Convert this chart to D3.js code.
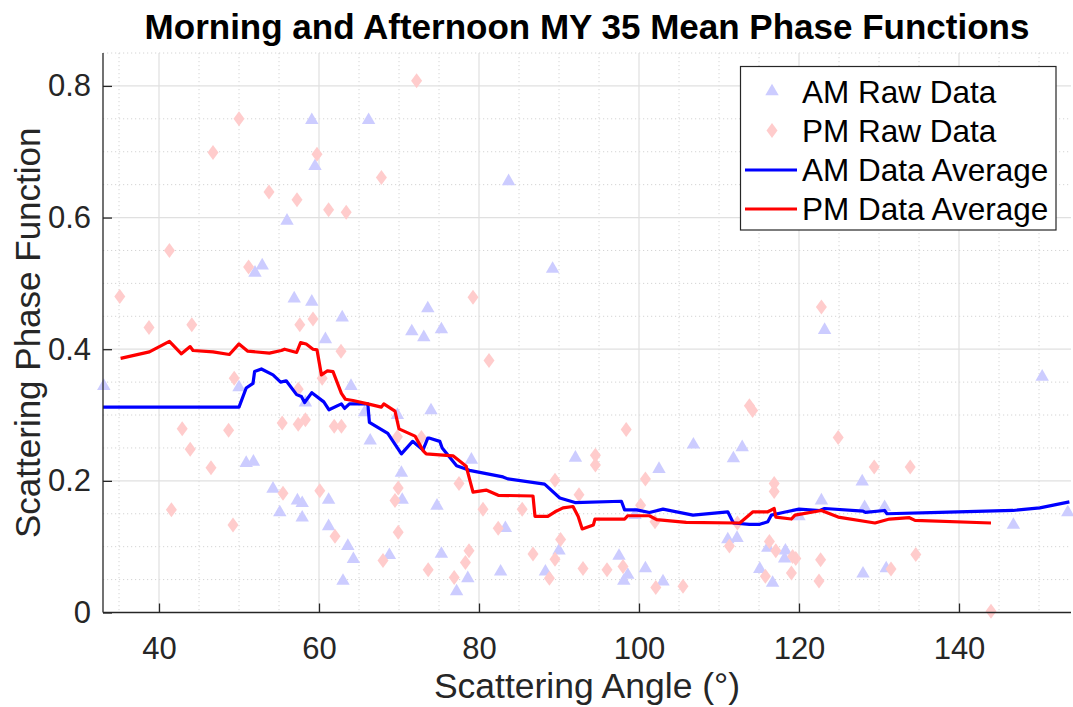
<!DOCTYPE html>
<html>
<head>
<meta charset="utf-8">
<script src="https://cdn.jsdelivr.net/npm/d3@7"></script>
<style>
  html, body { margin: 0; padding: 0; background: #ffffff; }
  svg { display: block; font-family: "Liberation Sans", Arial, Helvetica, sans-serif; }
</style>
</head>
<body>
<svg id="chart" width="1073" height="707"></svg>
<script>
// Raw AM observations: [scattering angle (deg), phase function]
const amRaw = [
  [33.1,0.344],[50.0,0.342],[50.9,0.227],[51.8,0.229],[52.0,0.516],[52.9,0.527],
  [54.25,0.188],[55.1,0.152],[56.0,0.595],[56.9,0.477],[57.3,0.170],[57.9,0.166],
  [57.9,0.144],[58.3,0.319],[59.1,0.748],[59.5,0.678],[59.1,0.472],[60.8,0.415],
  [61.2,0.171],[61.2,0.131],[62.9,0.448],[63.0,0.048],[63.6,0.101],[64.0,0.344],
  [64.3,0.081],[65.7,0.304],[66.2,0.748],[66.4,0.261],[68.8,0.087],[69.8,0.300],
  [70.3,0.212],[70.4,0.171],[71.6,0.427],[73.1,0.418],[73.6,0.462],[74.0,0.307],
  [74.75,0.162],[75.3,0.430],[75.3,0.089],[77.2,0.032],[78.6,0.052],[79.05,0.232],
  [82.7,0.062],[83.3,0.128],[83.7,0.655],[88.3,0.062],[89.2,0.522],[90.0,0.094],
  [92.05,0.235],[97.5,0.086],[98.1,0.048],[98.6,0.057],[99.5,0.148],[100.8,0.067],
  [102.5,0.218],[103.0,0.047],[106.8,0.255],[111.1,0.111],[111.8,0.234],[112.25,0.113],
  [112.9,0.251],[115.1,0.066],[116.1,0.098],[116.7,0.045],[118.3,0.094],[118.2,0.082],
  [120.0,0.146],[122.8,0.170],[123.2,0.429],[127.9,0.199],[128.0,0.059],[128.2,0.160],
  [130.7,0.160],[130.9,0.067],[146.8,0.133],[150.4,0.358],[153.6,0.152]
];

// Raw PM observations
const pmRaw = [
  [35.1,0.480],[38.75,0.433],[41.3,0.550],[41.55,0.156],[42.9,0.279],[43.9,0.248],
  [44.1,0.437],[46.5,0.220],[46.75,0.699],[48.7,0.277],[49.25,0.133],[49.4,0.356],
  [50.0,0.750],[51.2,0.525],[53.75,0.639],[55.4,0.288],[55.5,0.181],[57.25,0.627],
  [57.4,0.286],[57.4,0.339],[57.6,0.437],[58.3,0.293],[59.25,0.446],[59.75,0.696],
  [60.1,0.185],[60.4,0.356],[61.2,0.612],[61.9,0.283],[62.0,0.116],[62.75,0.397],
  [62.8,0.283],[63.4,0.608],[67.8,0.661],[68.0,0.079],[69.5,0.170],[69.8,0.267],
  [69.9,0.189],[69.9,0.122],[72.2,0.808],[72.8,0.266],[73.65,0.065],[76.9,0.053],
  [77.5,0.196],[78.3,0.076],[78.75,0.094],[79.25,0.479],[80.5,0.157],[81.25,0.383],
  [82.4,0.128],[85.4,0.157],[86.75,0.089],[88.8,0.052],[89.5,0.081],[89.5,0.201],
  [90.2,0.111],[92.5,0.179],[93.0,0.067],[94.55,0.239],[94.55,0.224],[96.0,0.065],
  [98.0,0.070],[98.4,0.278],[100.2,0.163],[100.8,0.203],[102.0,0.138],[102.1,0.038],
  [105.5,0.040],[111.3,0.101],[112.3,0.136],[113.8,0.314],[114.2,0.307],[115.8,0.055],
  [116.3,0.108],[116.9,0.196],[116.9,0.184],[117.1,0.094],[119.05,0.060],[119.2,0.085],
  [119.6,0.082],[122.5,0.048],[122.7,0.080],[122.8,0.464],[124.9,0.266],[129.4,0.221],
  [131.5,0.066],[133.9,0.221],[134.6,0.088],[144.0,0.002]
];

// Running average of the AM data
const amAvg = [
  [33.0,0.312],[50.0,0.312],[50.9,0.341],[51.75,0.348],[51.95,0.366],[52.8,0.370],
  [54.25,0.361],[55.2,0.350],[55.9,0.352],[57.2,0.331],[57.8,0.328],[58.2,0.319],
  [59.1,0.334],[60.6,0.320],[61.25,0.308],[62.8,0.317],[63.2,0.310],[63.8,0.317],
  [65.1,0.317],[66.1,0.317],[66.3,0.289],[68.6,0.272],[70.3,0.241],[71.7,0.260],
  [73.0,0.247],[73.6,0.265],[73.75,0.265],[75.1,0.260],[75.4,0.250],[77.2,0.223],
  [78.8,0.216],[83.0,0.206],[83.6,0.203],[88.2,0.195],[90.1,0.174],[92.0,0.167],
  [97.8,0.169],[98.2,0.156],[99.7,0.156],[101.3,0.152],[103.0,0.157],[106.75,0.148],
  [111.1,0.153],[111.8,0.136],[113.8,0.134],[115.1,0.134],[116.1,0.138],[116.55,0.148],
  [118.0,0.152],[120.0,0.157],[122.6,0.155],[123.2,0.158],[128.0,0.154],[128.3,0.152],
  [130.7,0.155],[131.0,0.150],[137.6,0.152],[146.75,0.155],[150.1,0.159],[153.8,0.168]
];

// Running average of the PM data
const pmAvg = [
  [35.2,0.386],[38.8,0.396],[41.3,0.412],[42.8,0.393],[43.9,0.404],[44.25,0.398],
  [46.75,0.396],[48.8,0.392],[50.0,0.408],[51.1,0.397],[53.8,0.394],[55.3,0.398],
  [55.7,0.400],[57.2,0.395],[57.7,0.410],[58.4,0.408],[59.25,0.400],[59.75,0.399],
  [60.3,0.361],[61.05,0.367],[61.75,0.366],[62.8,0.333],[63.3,0.324],[64.25,0.322],
  [66.1,0.317],[67.8,0.312],[68.1,0.317],[69.5,0.306],[70.0,0.279],[72.0,0.268],
  [73.0,0.246],[73.4,0.241],[76.75,0.238],[78.4,0.222],[79.25,0.183],[80.9,0.186],
  [82.4,0.178],[86.75,0.177],[87.0,0.146],[88.6,0.146],[89.5,0.153],[90.5,0.159],
  [91.75,0.161],[92.4,0.146],[92.9,0.127],[94.3,0.133],[94.5,0.142],[98.2,0.142],
  [98.6,0.147],[101.3,0.147],[102.2,0.141],[105.9,0.137],[112.2,0.136],[112.6,0.136],
  [114.25,0.153],[116.1,0.153],[116.9,0.158],[117.1,0.145],[119.05,0.142],[119.5,0.148],
  [122.8,0.155],[124.9,0.145],[129.5,0.136],[131.3,0.142],[133.8,0.144],[134.5,0.140],
  [144.0,0.136]
];

const xTicks = [40, 60, 80, 100, 120, 140];
const yTicks = [0, 0.2, 0.4, 0.6, 0.8];
const legendLabels = ["AM Raw Data", "PM Raw Data", "AM Data Average", "PM Data Average"];

const svg = d3.select("#chart");
const plot = { left: 103, right: 1071, top: 53, bottom: 612.5 };

const x = d3.scaleLinear().domain([33, 154]).range([plot.left, plot.right]);
const y = d3.scaleLinear().domain([0, 0.85]).range([plot.bottom, plot.top]);

const axisColor = "#262626";
const amMarker = "#ccccff";
const pmMarker = "#ffcccc";

// minor grid (dotted)
const gMinor = svg.append("g");
d3.range(35, 155, 5).filter(v => v % 20 !== 0).forEach(v => {
  gMinor.append("line")
    .attr("x1", x(v)).attr("x2", x(v)).attr("y1", plot.top).attr("y2", plot.bottom)
    .attr("stroke", "#d4d4d4").attr("stroke-width", 1).attr("stroke-dasharray", "1.2,2.8");
});
d3.range(1, 18).map(i => +(i * 0.05).toFixed(2)).filter(v => Math.abs(v / 0.2 - Math.round(v / 0.2)) > 1e-6).forEach(v => {
  gMinor.append("line")
    .attr("x1", plot.left).attr("x2", plot.right).attr("y1", y(v)).attr("y2", y(v))
    .attr("stroke", "#d4d4d4").attr("stroke-width", 1).attr("stroke-dasharray", "1.2,2.8");
});

// major grid (solid, light)
const gMajor = svg.append("g");
xTicks.forEach(v => {
  gMajor.append("line")
    .attr("x1", x(v)).attr("x2", x(v)).attr("y1", plot.top).attr("y2", plot.bottom)
    .attr("stroke", "#e0e0e0").attr("stroke-width", 1.2);
});
yTicks.filter(v => v > 0).forEach(v => {
  gMajor.append("line")
    .attr("x1", plot.left).attr("x2", plot.right).attr("y1", y(v)).attr("y2", y(v))
    .attr("stroke", "#e0e0e0").attr("stroke-width", 1.2);
});

// scatter markers
const triangle = d3.symbol().type(d3.symbolTriangle).size(78);
svg.append("g").selectAll("path").data(amRaw).join("path")
  .attr("d", triangle)
  .attr("transform", d => `translate(${x(d[0])},${y(d[1])})`)
  .attr("fill", amMarker);

const diamondPath = "M0,-7.5 L5.5,0 L0,7.5 L-5.5,0 Z";
svg.append("g").selectAll("path").data(pmRaw).join("path")
  .attr("d", diamondPath)
  .attr("transform", d => `translate(${x(d[0])},${y(d[1])})`)
  .attr("fill", pmMarker);

// average lines
const line = d3.line().x(d => x(d[0])).y(d => y(d[1]));
svg.append("path").datum(amAvg).attr("d", line)
  .attr("fill", "none").attr("stroke", "#0000ff").attr("stroke-width", 3.2).attr("stroke-linejoin", "round");
svg.append("path").datum(pmAvg).attr("d", line)
  .attr("fill", "none").attr("stroke", "#ff0000").attr("stroke-width", 3.2).attr("stroke-linejoin", "round");

// axes (inward ticks)
const xAxis = d3.axisBottom(x).tickValues(xTicks).tickSizeInner(-9).tickSizeOuter(0).tickPadding(24);
const yAxis = d3.axisLeft(y).tickValues(yTicks).tickSizeInner(-9).tickSizeOuter(0).tickPadding(12)
  .tickFormat(d => d === 0 ? "0" : d3.format(".1f")(d));

const gx = svg.append("g").attr("transform", `translate(0,${plot.bottom})`).call(xAxis);
const gy = svg.append("g").attr("transform", `translate(${plot.left},0)`).call(yAxis);
[gx, gy].forEach(g => {
  g.select(".domain").attr("stroke", axisColor).attr("stroke-width", 1.3);
  g.selectAll(".tick line").attr("stroke", axisColor).attr("stroke-width", 1.3);
  g.selectAll(".tick text").attr("fill", axisColor)
    .style("font-size", "31px").style("font-family", "'Liberation Sans', Arial, sans-serif");
});
gx.select(".domain").attr("d", `M${plot.left},0H${plot.right}`);
gy.select(".domain").attr("d", `M0,${plot.bottom}V${plot.top}`);

// title and axis labels
svg.append("text")
  .attr("x", 587).attr("y", 39).attr("text-anchor", "middle")
  .attr("font-size", 35).attr("font-weight", "bold").attr("fill", "#000")
  .text("Morning and Afternoon MY 35 Mean Phase Functions");

svg.append("text")
  .attr("x", 587).attr("y", 698).attr("text-anchor", "middle")
  .attr("font-size", 35.5).attr("fill", axisColor)
  .text("Scattering Angle (°)");

svg.append("text")
  .attr("transform", `translate(40,${(plot.top + plot.bottom) / 2}) rotate(-90)`)
  .attr("text-anchor", "middle")
  .attr("font-size", 35).attr("fill", axisColor)
  .text("Scattering Phase Function");

// legend
const lg = svg.append("g");
lg.append("rect")
  .attr("x", 740.5).attr("y", 66.5).attr("width", 315.5).attr("height", 163.5)
  .attr("fill", "#ffffff").attr("stroke", axisColor).attr("stroke-width", 1.2);
const rowY = [91.5, 130.5, 170, 209];
legendLabels.forEach((lab, i) => {
  const cy = rowY[i];
  if (i === 0) {
    lg.append("path").attr("d", triangle).attr("transform", `translate(772,${cy})`).attr("fill", amMarker);
  } else if (i === 1) {
    lg.append("path").attr("d", diamondPath).attr("transform", `translate(772,${cy})`).attr("fill", pmMarker);
  } else {
    lg.append("line").attr("x1", 745).attr("x2", 797).attr("y1", cy).attr("y2", cy)
      .attr("stroke", i === 2 ? "#0000ff" : "#ff0000").attr("stroke-width", 3.2);
  }
  lg.append("text").attr("x", 802).attr("y", cy + 11)
    .attr("font-size", 31.5).attr("fill", "#000").text(lab);
});
</script>
</body>
</html>
